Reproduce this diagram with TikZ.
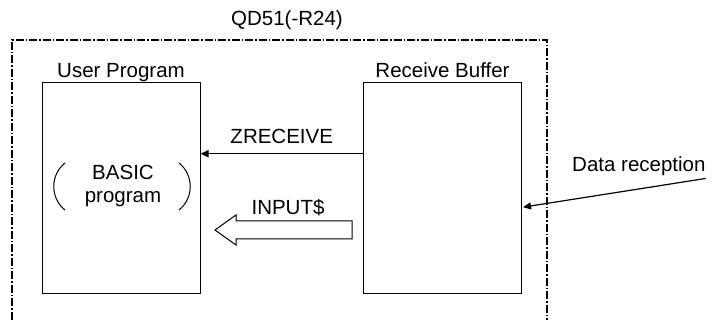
\documentclass[tikz,border=0pt]{standalone}
\usepackage{fontspec}
\setmainfont{Liberation Sans}
\usetikzlibrary{arrows.meta,positioning,calc}

\begin{document}
\begin{tikzpicture}[
    x=1pt, y=-1pt,
    font=\fontsize{20.5}{22.5}\selectfont,
    membox/.style={rectangle, draw=black, line width=1pt, minimum width=158pt, minimum height=211pt, inner sep=0pt},
    lbl/.style={inner sep=0pt},
    frame/.style={line width=1.4pt, dash pattern=on 8pt off 2pt on 1.5pt off 2pt},
    arrow/.style={-{Triangle[length=8pt,width=7pt]}, line width=1.5pt},
    hollow/.style={draw=black, line width=1pt, fill=white}
]
    \useasboundingbox (0,0) rectangle (712,320);

    % module frame
    \draw [frame] (12,320) -- (12,40) -- (547,40) -- (547,320);
    \node [lbl, anchor=base] (qd) at (287,26) {QD51(-R24)};

    % program and buffer
    \node [membox] (uprog) at (121,188.5) {};
    \node [membox] (rbuf) at (442.5,188.5) {};
    \node [lbl, anchor=base] (uproglbl) at ([yshift=5pt]uprog.north) {User Program};
    \node [lbl, anchor=base] (rbuflbl) at ([yshift=5pt]rbuf.north) {Receive Buffer};

    \node [align=center, inner sep=0pt] (basic) at (123,186) {BASIC\\program};
    \draw [line width=1pt] (65,163) .. controls (50,175) and (50,198) .. (65,210);
    \draw [line width=1pt] (179,163) .. controls (194,175) and (194,198) .. (179,210);

    % ZRECEIVE
    \coordinate (zfrom) at ($(rbuf.north west)!0.336!(rbuf.south west)$);
    \draw [arrow] (zfrom) -- (uprog.east |- zfrom)
        node [lbl, midway, above=9pt] (zlbl) {ZRECEIVE};

    % INPUT$
    \coordinate (intip) at (215,230);
    \draw [hollow] (intip) -- ++(21,-15) -- ++(0,6) -- ++(116,0) -- ++(0,18)
        -- ++(-116,0) -- ++(0,6) -- cycle;
    \node [lbl, anchor=base] (inlbl) at (288,215) {INPUT\$};

    % data reception
    \node [lbl, anchor=base west] (drecv) at (572,172) {Data reception};
    \coordinate (rxin) at ($(rbuf.north east)!0.588!(rbuf.south east)$);
    \draw [arrow, line width=1.2pt] ([yshift=-2pt]drecv.south east) -- ([xshift=1pt]rxin);
\end{tikzpicture}
\end{document}
